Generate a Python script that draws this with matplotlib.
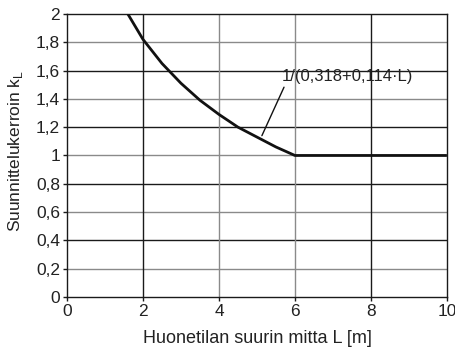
import matplotlib
matplotlib.use("Agg")
import matplotlib.pyplot as plt

plt.rcParams["font.family"] = ["Liberation Sans", "DejaVu Sans"]

# values
L_vals = [1.6, 2.0, 2.5, 3.0, 3.5, 4.0, 4.5, 5.0, 5.5, 6.0, 10.0]
k_vals = [2.0, 1.82, 1.65, 1.51, 1.39, 1.29, 1.20, 1.13, 1.06, 1.0, 1.0]

x_ticks = [0, 2, 4, 6, 8, 10]
y_ticks = [0, 0.2, 0.4, 0.6, 0.8, 1.0, 1.2, 1.4, 1.6, 1.8, 2.0]
y_labels = ["0", "0,2", "0,4", "0,6", "0,8", "1", "1,2", "1,4", "1,6", "1,8", "2"]
label_text = "1/(0,318+0,114\u00b7L)"

fig = plt.figure(figsize=(4.56, 3.57), dpi=100)
ax = fig.add_axes([0.147, 0.168, 0.833, 0.793])

ax.set_xlim(0, 10)
ax.set_ylim(0, 2)

# grid: alternating black / grey lines
black = "#1a1a1a"
grey = "#8a8a8a"
for i, y in enumerate(y_ticks):
    if y in (0, 2):
        continue
    ax.axhline(y, color=black if i % 2 == 0 else grey, lw=1.0, zorder=1)
vcol = {2: black, 4: grey, 6: grey, 8: black}
for x, c in vcol.items():
    ax.axvline(x, color=c, lw=1.0, zorder=1)

ax.plot(L_vals, k_vals, color="#111111", lw=2.0, zorder=3, solid_capstyle="butt")

ax.annotate(label_text, xy=(5.13, 1.14), xytext=(5.66, 1.555),
            fontsize=12, va="center", ha="left", color="#222222",
            arrowprops=dict(arrowstyle="-", color="#111111", lw=1.0,
                            shrinkA=0, shrinkB=0, relpos=(0.03, 0.1)),
            zorder=4)

for s in ax.spines.values():
    s.set_color(black)
    s.set_linewidth(1.0)

ax.set_xticks(x_ticks)
ax.set_yticks(y_ticks)
ax.set_yticklabels(y_labels)
ax.tick_params(direction="out", length=3, width=1.0, color=black,
               labelsize=12.5, labelcolor="#222222", pad=2)

ax.set_xlabel("Huonetilan suurin mitta L [m]", fontsize=13, color="#222222")
ax.set_ylabel("Suunnittelukerroin k$_\\mathregular{L}$", fontsize=12.5, color="#222222")
ax.xaxis.set_label_coords(0.5, -0.115)
ax.yaxis.set_label_coords(-0.11, 0.515)

fig.savefig("out.png", dpi=100)
